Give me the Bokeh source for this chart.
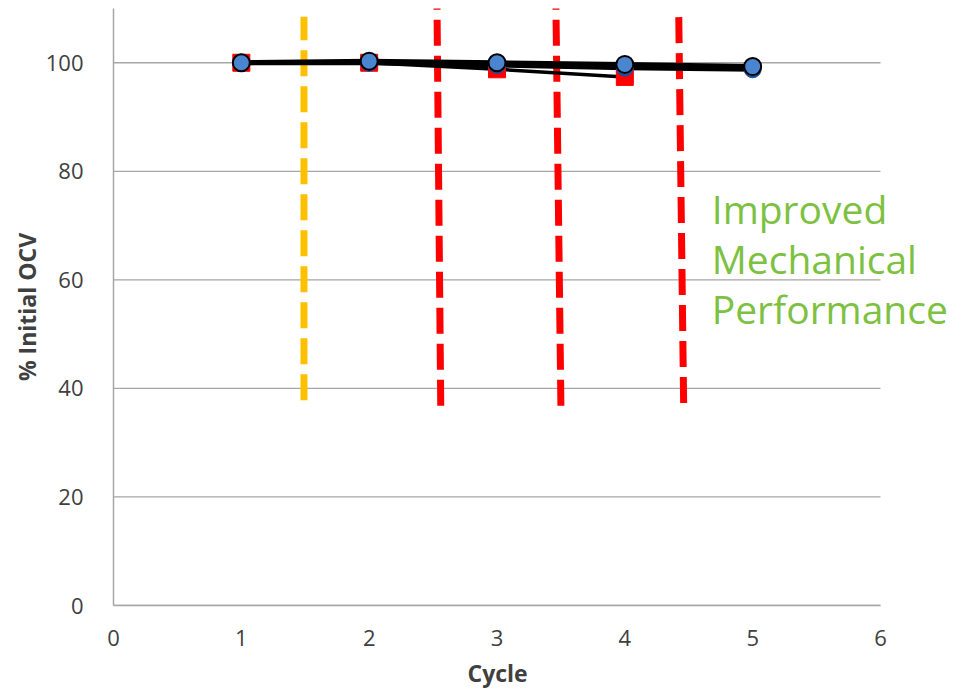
from bokeh.plotting import figure
from bokeh.models import Range1d, Label, FixedTicker, Title
from bokeh.embed import file_html
from bokeh.resources import INLINE

# ---- data ----
cycles = [1, 2, 3, 4, 5]
series_a = [100.0, 100.0, 98.8, 97.4]          # red squares
series_b = [100.0, 100.0, 99.6, 99.1, 98.8]    # dark blue circles
series_c = [100.0, 100.3, 100.0, 99.7, 99.3]   # blue circles
x_ticks = [0, 1, 2, 3, 4, 5, 6]
y_ticks = [0, 20, 40, 60, 80, 100]

marker_x_top = [1.49, 2.53, 3.46, 4.42]
marker_x_bottom = [1.49, 2.56, 3.50, 4.46]
marker_y_top = [108.5, 112.0, 112.0, 112.0]
marker_y_bottom = [37.8, 36.8, 36.8, 37.3]
marker_colors = ["#FFC000", "#FF0000", "#FF0000", "#FF0000"]

note_lines = ["Improved", "Mechanical", "Performance"]
x_title = "Cycle"
y_title = "% Initial OCV"

FONT = "Open Sans"
X_MIN, X_MAX = x_ticks[0], x_ticks[-1]
FRAME_LEFT, FRAME_RIGHT_AT_XMAX, FRAME_RIGHT = 113, 880, 955
x_end = X_MAX * (FRAME_RIGHT - FRAME_LEFT) / (FRAME_RIGHT_AT_XMAX - FRAME_LEFT)

p = figure(width=965, height=694, output_backend="svg", toolbar_location=None,
           x_range=Range1d(X_MIN, x_end), y_range=Range1d(0, 110))
p.min_border_left = FRAME_LEFT
p.min_border_right = 965 - FRAME_RIGHT
p.min_border_top = 8
p.min_border_bottom = 89
p.outline_line_color = None
p.background_fill_color = "white"
p.border_fill_color = "white"

p.xgrid.grid_line_color = None
p.ygrid.grid_line_color = None

for ax in (p.xaxis[0], p.yaxis[0]):
    ax.axis_line_color = "#A6A6A6"
    ax.axis_line_width = 1.5
    ax.major_tick_line_color = None
    ax.minor_tick_line_color = None
    ax.major_label_text_font = FONT
    ax.major_label_text_font_size = "22px"
    ax.major_label_text_color = "#404040"
    ax.axis_label_text_font = FONT
    ax.axis_label_text_font_size = "23px"
    ax.axis_label_text_font_style = "bold"
    ax.axis_label_text_color = "#404040"

p.xaxis.ticker = FixedTicker(ticks=x_ticks)
p.xaxis.bounds = (X_MIN, X_MAX)
p.yaxis.ticker = FixedTicker(ticks=y_ticks)
p.yaxis.axis_label = y_title
p.xaxis.major_label_standoff = 18
p.yaxis.major_label_standoff = 24
p.yaxis.axis_label_standoff = 0

# x-axis title centred under the bounded axis (0..6), not under the wider frame
title_w = 59
axis_mid_px = (FRAME_RIGHT_AT_XMAX - FRAME_LEFT) / 2
p.add_layout(Title(text=x_title, align="left", offset=axis_mid_px - title_w / 2,
                   text_font=FONT, text_font_size="23px", text_font_style="bold",
                   text_color="#404040", standoff=12), "below")

# horizontal gridlines limited to the x axis extent
p.segment(x0=[X_MIN] * len(y_ticks), y0=y_ticks, x1=[X_MAX] * len(y_ticks), y1=y_ticks,
          line_color="#A6A6A6", line_width=1.3)

# vertical dashed marker lines
p.segment(x0=marker_x_bottom, y0=marker_y_bottom, x1=marker_x_top, y1=marker_y_top,
          line_color=marker_colors, line_width=7, line_dash="26 10")

# series lines
p.line(cycles[:len(series_a)], series_a, line_color="black", line_width=3.5)
p.line(cycles, series_b, line_color="black", line_width=5)
p.line(cycles, series_c, line_color="black", line_width=5)

# markers
p.scatter(cycles[:len(series_a)], series_a, marker="square", size=17,
          fill_color="#FF0000", line_color="#FF0000")
p.scatter(cycles, series_b, marker="circle", size=17,
          fill_color="#1F4E9E", line_color="#1F4E9E")
p.scatter(cycles, series_c, marker="circle", size=17,
          fill_color="#4A86D0", line_color="black", line_width=2)

# annotation text
for i, t in enumerate(note_lines):
    p.add_layout(Label(x=4.68, y=73.1 - i * 9.2, text=t, text_font=FONT,
                       text_font_size="39px", text_color="#7DC142",
                       text_baseline="alphabetic"))

open("out.html", "w").write(file_html(p, INLINE))
